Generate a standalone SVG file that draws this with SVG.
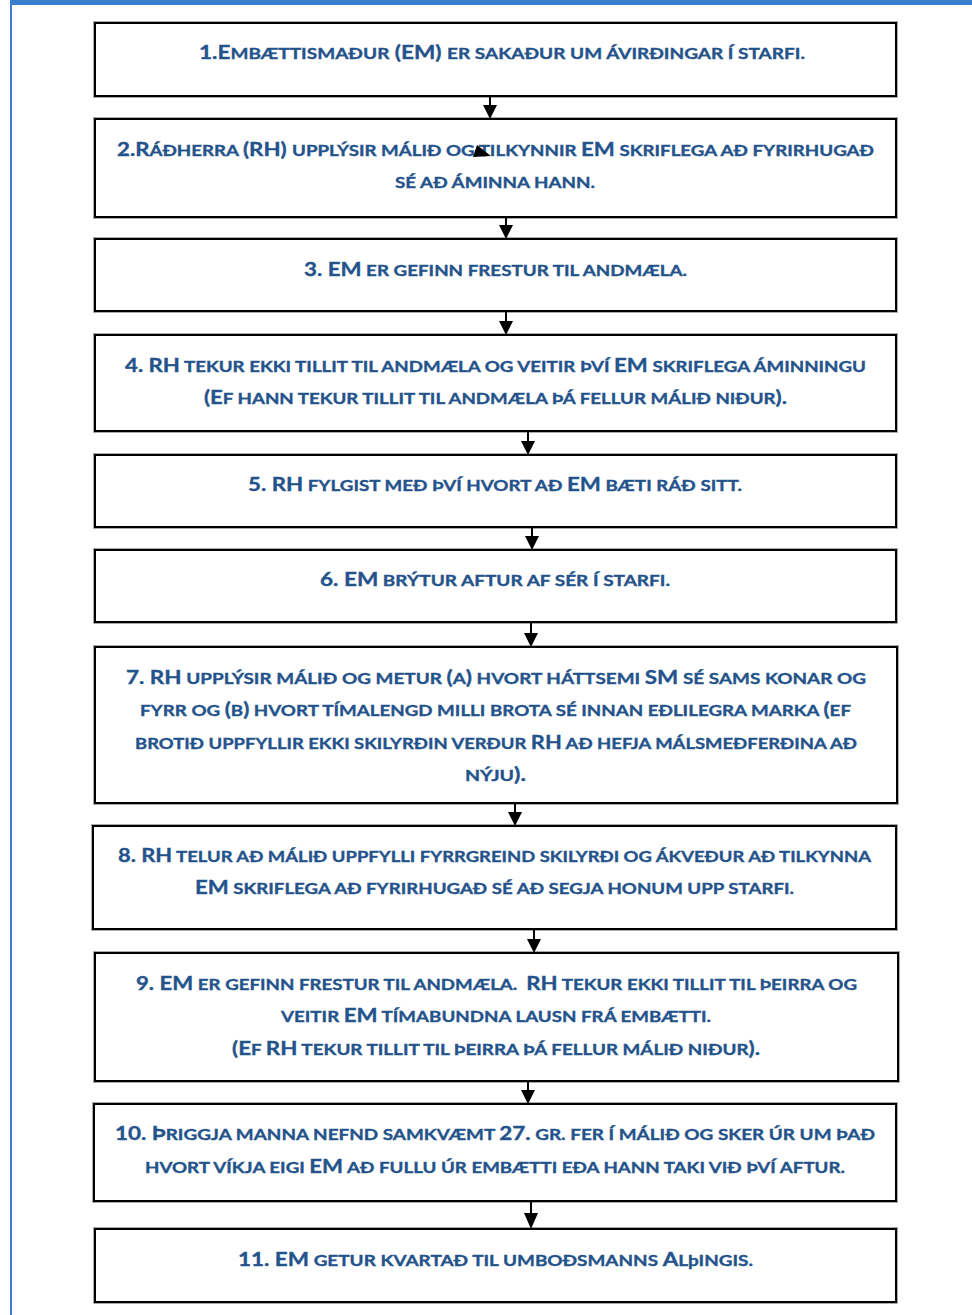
<svg xmlns="http://www.w3.org/2000/svg" width="972" height="1315" viewBox="0 0 972 1315">
<style>
.box{fill:#fff;stroke:#000;stroke-width:2}
.halo{fill:none;stroke:#aaa;stroke-width:4}
.t{font-family:Lato,"Open Sans","Liberation Sans",sans-serif;font-weight:bold;font-size:19px;fill:#24538b;stroke:#24538b;stroke-width:0.35px}
.s{font-size:16px}
.c{stroke:#000;stroke-width:2;fill:none}
</style>
<rect x="0" y="0" width="972" height="1315" fill="#fff"/>
<rect x="10" y="0" width="962" height="5" fill="#3a7ecf"/>
<rect x="10" y="0" width="2" height="1315" fill="#3a7ecf"/>

<g id="n1">
<rect class="halo" x="95" y="23" width="801" height="73"/><rect class="box" x="95" y="23" width="801" height="73"/>
<text class="t" x="199" y="59" textLength="606" lengthAdjust="spacingAndGlyphs">1.E<tspan class="s">MBÆTTISMAÐUR</tspan> (EM) <tspan class="s">ER SAKAÐUR UM ÁVIRÐINGAR Í STARFI.</tspan></text>
</g>
<g id="n2">
<rect class="halo" x="95" y="119" width="801" height="98"/><rect class="box" x="95" y="119" width="801" height="98"/>
<text class="t" x="117" y="156" textLength="757" lengthAdjust="spacingAndGlyphs">2.R<tspan class="s">ÁÐHERRA </tspan>(RH) <tspan class="s">UPPLÝSIR MÁLIÐ OG TILKYNNIR </tspan>EM<tspan class="s"> SKRIFLEGA AÐ FYRIRHUGAÐ</tspan></text>
<text class="t" x="395" y="188" textLength="200" lengthAdjust="spacingAndGlyphs"><tspan class="s">SÉ AÐ ÁMINNA HANN.</tspan></text>
</g>
<g id="n3">
<rect class="halo" x="95" y="239" width="801" height="72"/><rect class="box" x="95" y="239" width="801" height="72"/>
<text class="t" x="304" y="276" textLength="383" lengthAdjust="spacingAndGlyphs">3. EM<tspan class="s"> ER GEFINN FRESTUR TIL ANDMÆLA.</tspan></text>
</g>
<g id="n4">
<rect class="halo" x="95" y="335" width="801" height="96"/><rect class="box" x="95" y="335" width="801" height="96"/>
<text class="t" x="125" y="372" textLength="741" lengthAdjust="spacingAndGlyphs">4. RH<tspan class="s"> TEKUR EKKI TILLIT TIL ANDMÆLA OG VEITIR ÞVÍ </tspan>EM<tspan class="s"> SKRIFLEGA ÁMINNINGU</tspan></text>
<text class="t" x="204" y="404" textLength="583" lengthAdjust="spacingAndGlyphs">(E<tspan class="s">F HANN TEKUR TILLIT TIL ANDMÆLA ÞÁ FELLUR MÁLIÐ NIÐUR</tspan>).</text>
</g>
<g id="n5">
<rect class="halo" x="95" y="455" width="801" height="72"/><rect class="box" x="95" y="455" width="801" height="72"/>
<text class="t" x="248" y="491" textLength="494" lengthAdjust="spacingAndGlyphs">5. RH<tspan class="s"> FYLGIST MEÐ ÞVÍ HVORT AÐ </tspan>EM<tspan class="s"> BÆTI RÁÐ SITT.</tspan></text>
</g>
<g id="n6">
<rect class="halo" x="95" y="550" width="801" height="72"/><rect class="box" x="95" y="550" width="801" height="72"/>
<text class="t" x="320" y="586" textLength="350" lengthAdjust="spacingAndGlyphs">6. EM<tspan class="s"> BRÝTUR AFTUR AF SÉR Í STARFI.</tspan></text>
</g>
<g id="n7">
<rect class="halo" x="95" y="647" width="802" height="156"/><rect class="box" x="95" y="647" width="802" height="156"/>
<text class="t" x="126" y="684" textLength="740" lengthAdjust="spacingAndGlyphs">7. RH<tspan class="s"> UPPLÝSIR MÁLIÐ OG METUR </tspan>(<tspan class="s">A</tspan>)<tspan class="s"> HVORT HÁTTSEMI </tspan>SM<tspan class="s"> SÉ SAMS KONAR OG</tspan></text>
<text class="t" x="140" y="716" textLength="711" lengthAdjust="spacingAndGlyphs"><tspan class="s">FYRR OG </tspan>(<tspan class="s">B</tspan>)<tspan class="s"> HVORT TÍMALENGD MILLI BROTA SÉ INNAN EÐLILEGRA MARKA </tspan>(<tspan class="s">EF</tspan></text>
<text class="t" x="135" y="749" textLength="722" lengthAdjust="spacingAndGlyphs"><tspan class="s">BROTIÐ UPPFYLLIR EKKI SKILYRÐIN VERÐUR </tspan>RH<tspan class="s"> AÐ HEFJA MÁLSMEÐFERÐINA AÐ</tspan></text>
<text class="t" x="465" y="781" textLength="61" lengthAdjust="spacingAndGlyphs"><tspan class="s">NÝJU</tspan>).</text>
</g>
<g id="n8">
<rect class="halo" x="93" y="826" width="803" height="103"/><rect class="box" x="93" y="826" width="803" height="103"/>
<text class="t" x="118" y="862" textLength="753" lengthAdjust="spacingAndGlyphs">8. RH<tspan class="s"> TELUR AÐ MÁLIÐ UPPFYLLI FYRRGREIND SKILYRÐI OG ÁKVEÐUR AÐ TILKYNNA</tspan></text>
<text class="t" x="195" y="894" textLength="599" lengthAdjust="spacingAndGlyphs">EM<tspan class="s"> SKRIFLEGA AÐ FYRIRHUGAÐ SÉ AÐ SEGJA HONUM UPP STARFI.</tspan></text>
</g>
<g id="n9">
<rect class="halo" x="95" y="953" width="803" height="128"/><rect class="box" x="95" y="953" width="803" height="128"/>
<text class="t" x="136" y="990" textLength="721" lengthAdjust="spacingAndGlyphs" xml:space="preserve">9. EM<tspan class="s"> ER GEFINN FRESTUR TIL ANDMÆLA.  </tspan>RH<tspan class="s"> TEKUR EKKI TILLIT TIL ÞEIRRA OG</tspan></text>
<text class="t" x="281" y="1022" textLength="430" lengthAdjust="spacingAndGlyphs"><tspan class="s">VEITIR </tspan>EM<tspan class="s"> TÍMABUNDNA LAUSN FRÁ EMBÆTTI.</tspan></text>
<text class="t" x="232" y="1055" textLength="528" lengthAdjust="spacingAndGlyphs">(E<tspan class="s">F </tspan>RH<tspan class="s"> TEKUR TILLIT TIL ÞEIRRA ÞÁ FELLUR MÁLIÐ NIÐUR</tspan>).</text>
</g>
<g id="n10">
<rect class="halo" x="94" y="1104" width="802" height="97"/><rect class="box" x="94" y="1104" width="802" height="97"/>
<text class="t" x="115" y="1140" textLength="760" lengthAdjust="spacingAndGlyphs">10. Þ<tspan class="s">RIGGJA MANNA NEFND SAMKVÆMT </tspan>27.<tspan class="s"> GR. FER Í MÁLIÐ OG SKER ÚR UM ÞAÐ</tspan></text>
<text class="t" x="145" y="1173" textLength="700" lengthAdjust="spacingAndGlyphs"><tspan class="s">HVORT VÍKJA EIGI </tspan>EM<tspan class="s"> AÐ FULLU ÚR EMBÆTTI EÐA HANN TAKI VIÐ ÞVÍ AFTUR.</tspan></text>
</g>
<g id="n11">
<rect class="halo" x="95" y="1229" width="801" height="73"/><rect class="box" x="95" y="1229" width="801" height="73"/>
<text class="t" x="238" y="1266" textLength="515" lengthAdjust="spacingAndGlyphs">11. EM<tspan class="s"> GETUR KVARTAÐ TIL UMBOÐSMANNS </tspan>A<tspan class="s">LþINGIS.</tspan></text>
</g>

<g id="connectors">
<path class="c" d="M490,96 V105"/><polygon points="483,105 497,105 490,119"/>
<path class="c" d="M506,217 V225"/><polygon points="499,225 513,225 506,239"/>
<path class="c" d="M506,311 V321"/><polygon points="499,321 513,321 506,335"/>
<path class="c" d="M528,431 V441"/><polygon points="521,441 535,441 528,455"/>
<path class="c" d="M532,527 V536"/><polygon points="525,536 539,536 532,550"/>
<path class="c" d="M531,622 V633"/><polygon points="524,633 538,633 531,647"/>
<path class="c" d="M515,803 V812"/><polygon points="508,812 522,812 515,826"/>
<path class="c" d="M534,929 V939"/><polygon points="527,939 541,939 534,953"/>
<path class="c" d="M528,1081 V1090"/><polygon points="521,1090 535,1090 528,1104"/>
<path class="c" d="M531,1201 V1213"/><polygon points="524,1213 538,1213 531,1229"/>
<polygon points="477,145 473,157 491,156"/>
</g>
</svg>
